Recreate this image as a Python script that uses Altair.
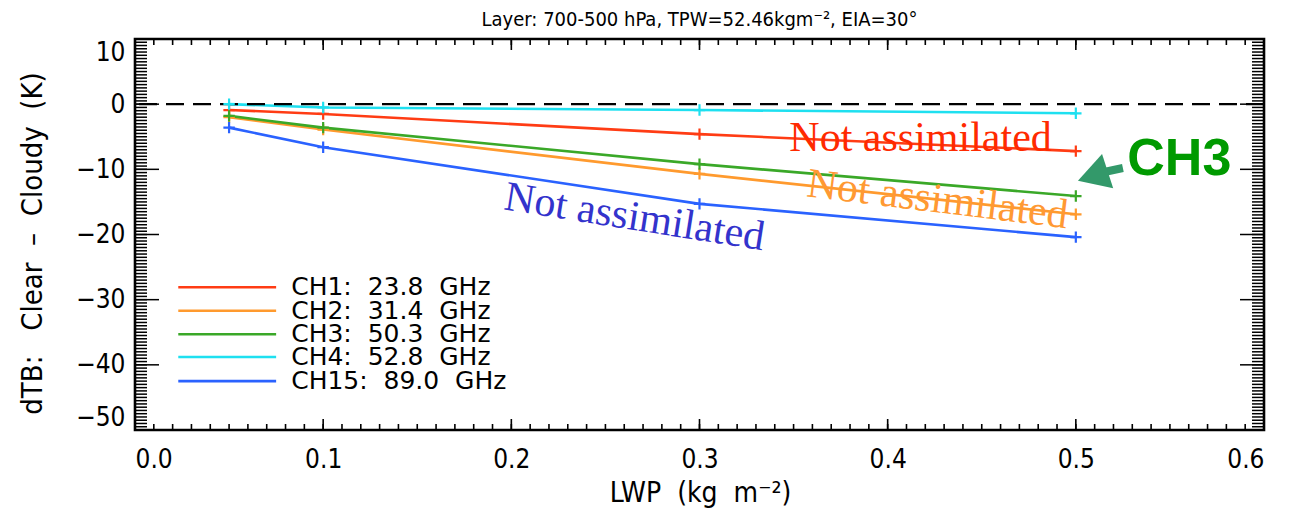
import altair as alt
import pandas as pd

# Liquid water path (kg m^-2) and clear-minus-cloudy brightness temperature (K)
lwp = [0.05, 0.1, 0.3, 0.5]
ch1 = [-0.9, -1.5, -4.6, -7.2]
ch2 = [-2.0, -3.9, -10.7, -16.9]
ch3 = [-1.8, -3.6, -9.2, -14.1]
ch4 = [0.0, -0.5, -0.9, -1.4]
ch15 = [-3.6, -6.6, -15.3, -20.4]

channels = ["CH1: 23.8 GHz", "CH2: 31.4 GHz", "CH3: 50.3 GHz",
            "CH4: 52.8 GHz", "CH15: 89.0 GHz"]
colors = ["#ff3c14", "#ff9a2e", "#3aa828", "#1ee0f0", "#2a62ff"]
series = [ch1, ch2, ch3, ch4, ch15]

# legend block placement (data coordinates)
legend_x0, legend_x1, legend_tx = 0.023, 0.075, 0.083
legend_y = [-28.1, -31.7, -35.3, -38.8, -42.5]

# free-text annotations
note_text = ["Not assimilated", "Not assimilated", "Not assimilated"]
note_x = [0.4175, 0.4265, 0.2655]
note_y = [-5.2, -14.6, -17.3]
note_angle = [0, 7, 9]
note_color = ["#ff2a00", "#ff9933", "#3333cc"]

ch3_label = ["CH3"]
ch3_label_x = [0.555]
ch3_label_y = [-8.4]
arrow_head_x = [0.509]
arrow_head_y = [-11.0]
arrow_tail_x = [0.512, 0.525]
arrow_tail_y = [-10.6, -9.8]

X_MIN, X_MAX = 0.0, 0.6
Y_MIN, Y_MAX = -50, 10
x_major = [0.0, 0.1, 0.2, 0.3, 0.4, 0.5, 0.6]
y_major = [-50, -40, -30, -20, -10, 0, 10]
x_minor = [round(i * 0.01, 2) for i in range(61)]
y_minor = [-50 + i * 0.5 for i in range(121)]

W, H = 1129, 391
FONT = "DejaVu Sans Condensed, Liberation Sans, sans-serif"
LEGEND_FONT = "DejaVu Sans, sans-serif"
NB = "\u00a0"

rows = []
for name, vals in zip(channels, series):
    for xv, yv in zip(lwp, vals):
        rows.append({"lwp": xv, "dtb": yv, "ch": name})
df = pd.DataFrame(rows)

xscale = alt.Scale(domain=[X_MIN, X_MAX], nice=False, zero=False)
yscale = alt.Scale(domain=[Y_MIN, Y_MAX], nice=False, zero=False)
cscale = alt.Scale(domain=channels, range=colors)

# inward-pointing tick marks on all four sides of the frame; lengths are
# given in pixels and converted to data units along the crossing axis
PX_X = (X_MAX - X_MIN) / W
PX_Y = (Y_MAX - Y_MIN) / H


def y_ticks(vals, length_px):
    ln = length_px * PX_X
    n = len(vals)
    d = pd.DataFrame({
        "dtb": list(vals) * 2,
        "lwp": [X_MIN] * n + [X_MAX - ln] * n,
        "lwp2": [X_MIN + ln] * n + [X_MAX] * n})
    return alt.Chart(d).mark_rule(color="black", strokeWidth=1.5).encode(
        y=alt.Y("dtb:Q", scale=yscale), x=alt.X("lwp:Q", scale=xscale),
        x2="lwp2:Q")


def x_ticks(vals, length_px):
    ln = length_px * PX_Y
    n = len(vals)
    d = pd.DataFrame({
        "lwp": list(vals) * 2,
        "dtb": [Y_MIN] * n + [Y_MAX - ln] * n,
        "dtb2": [Y_MIN + ln] * n + [Y_MAX] * n})
    return alt.Chart(d).mark_rule(color="black", strokeWidth=1.6).encode(
        x=alt.X("lwp:Q", scale=xscale), y=alt.Y("dtb:Q", scale=yscale),
        y2="dtb2:Q")


# the comb layers come first so they carry the shared axes
ticks_y_minor = y_ticks(y_minor, 12)
ticks_y_major = y_ticks(y_major, 24)
ticks_x_minor = x_ticks(x_minor, 6)
ticks_x_major = x_ticks(x_major, 11)

axis_x = alt.Axis(
    values=x_major, format=".1f", ticks=False, domain=False, grid=False,
    labelFlush=True, labelPadding=16, labelFontSize=26, labelFont=FONT,
    labelColor="black",
    title=f"LWP{NB}{NB}(kg{NB}{NB}m\u207b\u00b2)", titleFont=FONT,
    titleFontSize=28, titleFontWeight="normal", titleX=565, titleY=63,
    titleBaseline="middle", titleColor="black")
axis_y = alt.Axis(
    values=y_major, ticks=False, domain=False, grid=False,
    labelFlush=True, labelPadding=10, labelFontSize=26, labelFont=FONT,
    labelColor="black",
    title=f"dTB:{NB}{NB}{NB}Clear{NB}{NB}\u2013{NB}{NB}Cloudy{NB}{NB}(K)",
    titleFont=FONT, titleFontSize=29, titleFontWeight="normal",
    titleX=-103, titleY=204, titleBaseline="middle", titleColor="black")

base = alt.Chart(df)

lines = base.mark_line(strokeWidth=2.6).encode(
    x=alt.X("lwp:Q", scale=xscale, axis=axis_x),
    y=alt.Y("dtb:Q", scale=yscale, axis=axis_y),
    color=alt.Color("ch:N", scale=cscale, legend=None),
    detail="ch:N",
)

plus = "M-1,0L1,0M0,-1L0,1"
markers = base.mark_point(shape=plus, filled=False, size=130,
                          strokeWidth=2.2, opacity=1).encode(
    x=alt.X("lwp:Q", scale=xscale),
    y=alt.Y("dtb:Q", scale=yscale),
    color=alt.Color("ch:N", scale=cscale, legend=None),
)

zero_line = alt.Chart(pd.DataFrame({"dtb": [0]})).mark_rule(
    color="black", strokeWidth=2.2, strokeDash=[18, 9]).encode(
    y=alt.Y("dtb:Q", scale=yscale))

leg_df = pd.DataFrame({
    "ch": channels, "dtb": legend_y,
    "lwp": [legend_x0] * 5, "lwp_end": [legend_x1] * 5,
    "lwp_text": [legend_tx] * 5,
    "label": [c.replace(": ", ":" + NB + NB).replace(" GHz", NB + " GHz")
              for c in channels]})
leg_lines = alt.Chart(leg_df).mark_rule(strokeWidth=2.6).encode(
    x=alt.X("lwp:Q", scale=xscale), x2="lwp_end:Q",
    y=alt.Y("dtb:Q", scale=yscale),
    color=alt.Color("ch:N", scale=cscale, legend=None))
leg_text = alt.Chart(leg_df).mark_text(
    align="left", baseline="middle", font=LEGEND_FONT, fontSize=25,
    color="black").encode(
    x=alt.X("lwp_text:Q", scale=xscale), y=alt.Y("dtb:Q", scale=yscale),
    text="label:N")

notes_df = pd.DataFrame({"t": note_text, "lwp": note_x, "dtb": note_y,
                         "a": note_angle, "c": note_color})
notes = alt.Chart(notes_df).mark_text(
    font="Liberation Serif", fontSize=42, align="center",
    baseline="middle").encode(
    x=alt.X("lwp:Q", scale=xscale), y=alt.Y("dtb:Q", scale=yscale),
    text="t:N", angle=alt.Angle("a:Q", scale=None),
    color=alt.Color("c:N", scale=None))

ch3_df = pd.DataFrame({"t": ch3_label, "lwp": ch3_label_x, "dtb": ch3_label_y})
ch3_text = alt.Chart(ch3_df).mark_text(
    font="Liberation Sans", fontSize=52, fontWeight="bold", color="#009a00",
    align="center", baseline="middle").encode(
    x=alt.X("lwp:Q", scale=xscale), y=alt.Y("dtb:Q", scale=yscale), text="t:N")

arrow_color = "#33996a"
arrow_head = alt.Chart(pd.DataFrame({"lwp": arrow_head_x, "dtb": arrow_head_y})).mark_point(
    shape="triangle-up", filled=True, size=1300, angle=252, color=arrow_color,
    opacity=1).encode(x=alt.X("lwp:Q", scale=xscale), y=alt.Y("dtb:Q", scale=yscale))
arrow_shaft = alt.Chart(pd.DataFrame({"lwp": arrow_tail_x, "dtb": arrow_tail_y})).mark_line(
    strokeWidth=8, color=arrow_color).encode(
    x=alt.X("lwp:Q", scale=xscale), y=alt.Y("dtb:Q", scale=yscale))

chart = alt.layer(
    lines, ticks_y_minor, ticks_y_major, ticks_x_minor, ticks_x_major,
    zero_line, markers, leg_lines, leg_text, notes, ch3_text,
    arrow_shaft, arrow_head,
).properties(
    width=W, height=H,
    title=alt.TitleParams(
        "Layer: 700-500 hPa, TPW=52.46kgm\u207b\u00b2, EIA=30\u00b0",
        font=FONT, fontSize=20, fontWeight="normal", color="black",
        anchor="middle", offset=8),
    autosize=alt.AutoSizeParams(type="none"),
    padding={"left": 135, "top": 39, "right": 31, "bottom": 83},
).configure_view(stroke="black", strokeWidth=2.6)

chart.save("out.html", embed_options={"renderer": "svg", "actions": False})
